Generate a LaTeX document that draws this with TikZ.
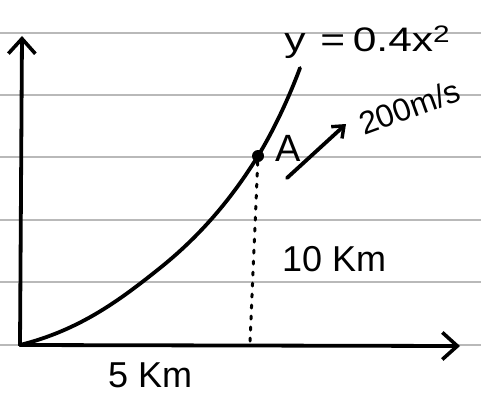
\documentclass[tikz,border=0pt]{standalone}
\usepackage{fontspec}
\setmainfont{Liberation Sans}
\usetikzlibrary{arrows.meta}
\begin{document}
\begin{tikzpicture}[x=1pt,y=-1pt,
  paperline/.style={draw=gray!55,line width=1.2pt},
  ink/.style={draw=black,line width=3.8pt,line cap=round,line join=round},
  barb/.style={-{Straight Barb[length=15pt,width=27pt,line width=3.6pt]}},
  smallbarb/.style={-{Straight Barb[length=10pt,width=16pt,line width=3.4pt]}},
  hand/.style={font=\fontsize{36}{38}\selectfont,inner sep=0pt}]
\useasboundingbox (0,0) rectangle (481,396);
\fill[white] (0,0) rectangle (481,396);
% ruled paper
\foreach \yy in {33,95,157,220,282,345}
  \draw[paperline] (0,\yy) -- (481,\yy);
% axes
\coordinate (O) at (20,345);
\coordinate (ytop) at (22,36);
\coordinate (xend) at (460,346);
\draw[ink,barb] (O) -- (ytop);
\draw[ink,barb] (O) -- (xend);
% point A
\node[circle,fill=black,inner sep=0pt,minimum size=12pt] (A) at (258,156) {};
% curve
\coordinate (mid) at (160,268);
\coordinate (cend) at (300,68);
\draw[ink] (O) .. controls (80,330) and (120,300) .. (mid)
  .. controls (210,228) and (240,185) .. (A.center)
  .. controls (275,128) and (290,95) .. (cend);
\node[hand,font=\fontsize{38}{40}\selectfont] (Alab) at (288,148) {A};
% dotted drop
\coordinate (foot) at (250,342);
\draw[line width=3pt,dash pattern=on 3pt off 8pt,line cap=round] (A) -- (foot);
% velocity
\coordinate (v0) at (287,178);
\coordinate (v1) at (346,124);
\draw[ink,smallbarb] (v0) -- (v1);
\node[hand,font=\fontsize{32}{34}\selectfont,rotate=20,anchor=base west] (vel) at (364,136) {200m/s};
% labels
\node[hand,font=\fontsize{34}{36}\selectfont,xscale=1.25,anchor=base west] (eq) at (284,52)
  {y\hspace{12pt}=\hspace{6pt}0.4x\textsuperscript{2}};
\node[hand,anchor=base west] (h) at (282,271) {10 Km};
\node[hand,anchor=base west] (w) at (108,387) {5 Km};
\end{tikzpicture}
\end{document}
